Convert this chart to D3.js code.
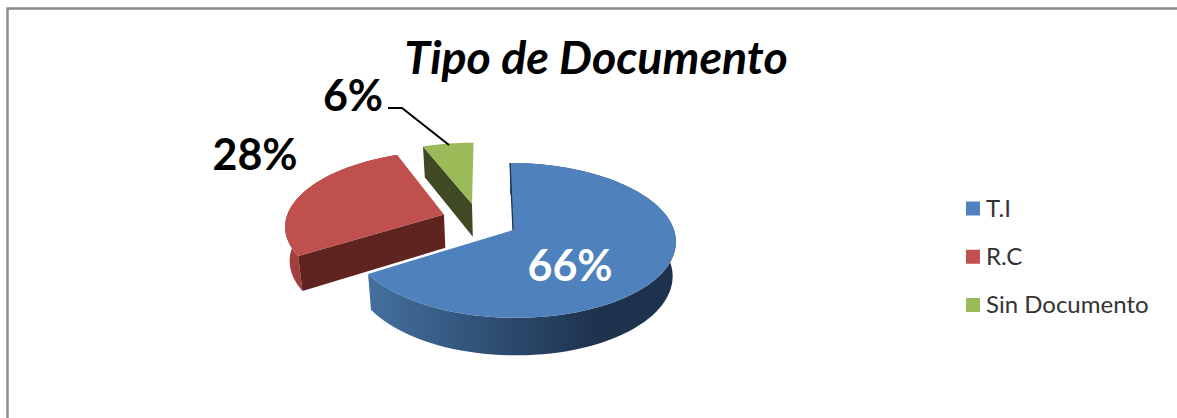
<!DOCTYPE html>
<html><head><meta charset="utf-8">
<style>html,body{margin:0;padding:0;background:#fff}svg{display:block}text{font-family:Lato,"Open Sans",sans-serif}</style>
<script src="https://cdn.jsdelivr.net/npm/d3@7"></script></head>
<body><svg id="c" width="1177" height="418"></svg>
<script>
const categories = ["T.I", "R.C", "Sin Documento"];
const percentValues = [66, 28, 6];
const chartTitle = "Tipo de Documento";
const topColors = ["#4F81BD", "#C0504D", "#9BBB59"];
const cutColors = ["#1F3550", "#5F2320", "#3F4A24"];
const rimLeft = ["#44709F", "#A5413F", "#7F9A48"];
const rimRight = ["#1D324D", "#8A3533", "#5F7335"];

const svg = d3.select("#c");
const W = 1177, H = 418;
// frame
svg.append("path").attr("d", `M7.5 ${H}V8.5H${W}`).attr("fill", "none").attr("stroke", "#8C8C8C").attr("stroke-width", 2.5);

// perspective projection of a unit disc
const cx = 513, cy = 230, B = 161, A = 76, k = 0.135, shear = -3, depth = 34;
const explode = [[0, 0], [-0.437, 0.21], [-0.26, 0.36]];
const proj = (u, v) => [cx + B * u / (1 + k * v) + shear * v, cy - A * v / (1 + k * v)];
const pie = d3.pie().sort(null).value(d => d);
const arcs = pie(percentValues);
const line = d3.line();
const down = p => [p[0] + (cx - p[0]) * 0.02, p[1] + depth + (p[1] - cy) * 0.04];
const defs = svg.append("defs");

const slices = arcs.map((a, i) => {
  const [ou, ov] = explode[i];
  const n = 90;
  const rim = d3.range(n + 1).map(j => {
    const t = a.startAngle + (a.endAngle - a.startAngle) * j / n;
    return proj(ou + Math.sin(t), ov + Math.cos(t));
  });
  return { i, a, apex: proj(ou, ov), rim };
});

// draw back to front: green, red, blue
[2, 1, 0].forEach(i => {
  const s = slices[i];
  const g = svg.append("g");
  const grad = defs.append("linearGradient").attr("id", "rim" + i).attr("gradientUnits", "userSpaceOnUse")
    .attr("x1", d3.min(s.rim, p => p[0])).attr("x2", i === 0 ? 600 : d3.max(s.rim, p => p[0])).attr("y1", 0).attr("y2", 0);
  grad.append("stop").attr("offset", 0).attr("stop-color", rimLeft[i]);
  grad.append("stop").attr("offset", 1).attr("stop-color", rimRight[i]);
  const first = s.rim[0];
  if (i !== 2) {
    // outer rim wall (the green slice's rim faces away from the viewer)
    g.append("path").attr("d", line(s.rim.concat(s.rim.map(down).reverse())) + "Z").attr("fill", `url(#rim${i})`);
  }
  if (i !== 0) {
    // cut face toward the viewer
    g.append("path").attr("d", line([s.apex, first, down(first), down(s.apex)]) + "Z").attr("fill", cutColors[i]);
  }
  // top face
  g.append("path").attr("d", line([s.apex].concat(s.rim)) + "Z").attr("fill", topColors[i]);
  if (i === 0) {
    // thin visible inner wall at the 12 o'clock edge
    g.append("path").attr("d", line([first, s.apex])).attr("stroke", cutColors[0]).attr("stroke-width", 1.3).attr("fill", "none");
  }
});

// title
svg.append("text").attr("x", 596).attr("y", 74).attr("text-anchor", "middle")
  .attr("font-size", 46.5).attr("font-weight", 700).attr("font-style", "italic").attr("fill", "#000").text(chartTitle);

// data labels
const labelAnchor = [[570, 281, "#fff"], [255, 170, "#000"], [353, 111, "#000"]];
arcs.forEach((a, i) => {
  svg.append("text").attr("x", labelAnchor[i][0]).attr("y", labelAnchor[i][1]).attr("text-anchor", "middle")
    .attr("font-size", 43).attr("font-weight", 700).attr("fill", labelAnchor[i][2]).text(a.data + "%");
});
// leader line
svg.append("path").attr("d", line([[388, 108], [402, 108], [449, 145]])).attr("fill", "none").attr("stroke", "#000").attr("stroke-width", 2);

// legend
const ly = d3.scalePoint().domain(categories).range([208.5, 305]);
categories.forEach((c, i) => {
  svg.append("rect").attr("x", 966).attr("y", ly(c) - 7).attr("width", 14).attr("height", 14).attr("fill", topColors[i]);
  svg.append("text").attr("x", 986).attr("y", ly(c) + 8).attr("font-size", 24).attr("fill", "#333").text(c);
});
</script></body></html>
